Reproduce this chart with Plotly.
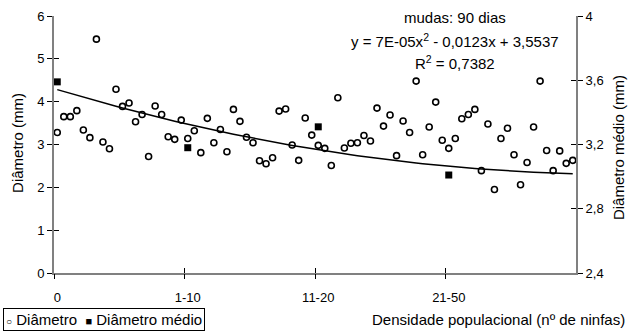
import plotly.graph_objects as go

# Diâmetro (mm) – 80 plants, primary axis
diametro = [3.28, 3.65, 3.65, 3.79, 3.34, 3.16, 5.46, 3.06, 2.90, 4.29,
            3.89, 3.97, 3.53, 3.70, 2.72, 3.90, 3.70, 3.18, 3.12, 3.57,
            3.14, 3.32, 2.81, 3.61, 3.04, 3.35, 2.83, 3.82, 3.54, 3.17,
            3.04, 2.62, 2.55, 2.69, 3.78, 3.83, 2.99, 2.63, 3.62, 3.22,
            2.98, 2.91, 2.51, 4.09, 2.92, 3.03, 3.04, 3.21, 3.08, 3.85,
            3.43, 3.69, 2.74, 3.55, 3.28, 4.48, 2.76, 3.41, 3.99, 3.10,
            2.91, 3.14, 3.60, 3.70, 3.82, 2.39, 3.48, 1.95, 3.14, 3.38,
            2.76, 2.06, 2.58, 3.41, 4.48, 2.86, 2.39, 2.85, 2.56, 2.63]
plant_index = list(range(1, len(diametro) + 1))

# Diâmetro médio (mm) – secondary axis, one per density class
medio_index = [1, 21, 41, 61]
diametro_medio = [3.59, 3.18, 3.31, 3.01]

# Polynomial trendline coefficients (a, b, c): y = a x^2 + b x + c
trend_coef = [7e-05, -0.0123, 3.5537]
trend_y = [trend_coef[0] * x * x + trend_coef[1] * x + trend_coef[2] for x in plant_index]

x_labelvals = [1, 21, 41, 61]
x_ticktext = ["0", "1-10", "11-20", "21-50"]
x_tickmarks = [0.5, 20.5, 40.5, 60.5]
y1_ticks = [0, 1, 2, 3, 4, 5, 6]
y2_ticks = [2.4, 2.8, 3.2, 3.6, 4.0]
y2_ticktext = ["2,4", "2,8", "3,2", "3,6", "4"]

FONT = "Liberation Sans, Arial, sans-serif"

fig = go.Figure()
fig.add_trace(go.Scatter(
    x=plant_index, y=diametro, mode="markers", name="Diâmetro",
    marker=dict(symbol="circle-open", size=6, color="black", line=dict(width=1.6)),
))
fig.add_trace(go.Scatter(
    x=medio_index, y=diametro_medio, mode="markers", name="Diâmetro médio",
    yaxis="y2", marker=dict(symbol="square", size=7, color="black"),
))
fig.add_trace(go.Scatter(
    x=plant_index, y=trend_y, mode="lines", showlegend=False, yaxis="y2",
    line=dict(color="black", width=1.5),
))
# empty traces to materialise the overlay axes used for crossing ticks
fig.add_trace(go.Scatter(x=[None], y=[None], xaxis="x2", yaxis="y3", showlegend=False))
fig.add_trace(go.Scatter(x=[None], y=[None], xaxis="x2", yaxis="y4", showlegend=False))
fig.add_trace(go.Scatter(x=[None], y=[None], xaxis="x3", yaxis="y3", showlegend=False))

axis_common = dict(showgrid=False, zeroline=False, linecolor="#808080", linewidth=2,
                   ticks="outside", ticklen=5, tickcolor="black", tickwidth=1,
                   tickfont=dict(size=13, color="black", family=FONT))
inner = dict(showticklabels=False, showgrid=False, zeroline=False, showline=False,
             ticks="inside", ticklen=5, tickcolor="black", tickwidth=1, tickmode="array")
outer = dict(inner, ticks="outside")

x_main = dict(axis_common, ticks="")
fig.update_layout(
    width=630, height=333,
    margin=dict(l=54, r=54, t=16, b=60, autoexpand=False),
    paper_bgcolor="white", plot_bgcolor="white",
    separators=",.",
    showlegend=False,
    font=dict(family=FONT, color="black", size=13),
    xaxis=dict(range=[0.5, 80.5], tickmode="array", tickvals=x_labelvals,
               ticktext=x_ticktext, showline=True, ticklabelstandoff=11, **x_main),
    yaxis=dict(range=[0, 6], tickmode="array", tickvals=y1_ticks, showline=True,
               **axis_common),
    yaxis2=dict(range=[2.4, 4.0], tickmode="array", tickvals=y2_ticks,
                ticktext=y2_ticktext, overlaying="y", side="right", showline=True,
                **axis_common),
    xaxis2=dict(range=[0.5, 80.5], overlaying="x", tickvals=x_tickmarks, anchor="y3", **inner),
    xaxis3=dict(range=[0.5, 80.5], overlaying="x", tickvals=x_tickmarks, anchor="y3", **outer),
    yaxis3=dict(range=[0, 6], overlaying="y", tickvals=y1_ticks, anchor="x2", **inner),
    yaxis4=dict(range=[2.4, 4.0], overlaying="y", side="right", tickvals=y2_ticks,
                anchor="x2", **inner),
)

ann_font = dict(size=15, family=FONT, color="black")
title_font = dict(size=15, family=FONT, color="black")
fig.add_annotation(text="mudas: 90 dias", x=0.768, y=0.996, xref="paper", yref="paper",
                   showarrow=False, font=ann_font, xanchor="center", yanchor="middle")
fig.add_annotation(text="y = 7E-05x<sup>2</sup> - 0,0123x + 3,5537", x=0.768, y=0.903,
                   xref="paper", yref="paper", showarrow=False, font=ann_font,
                   xanchor="center", yanchor="middle")
fig.add_annotation(text="R<sup>2</sup> = 0,7382", x=0.768, y=0.821, xref="paper",
                   yref="paper", showarrow=False, font=ann_font, xanchor="center",
                   yanchor="middle")
fig.add_annotation(text="Densidade populacional (nº de ninfas)", x=1.0977, y=-0.179,
                   xref="paper", yref="paper", showarrow=False, font=title_font,
                   xanchor="right", yanchor="middle")
fig.add_annotation(text="Diâmetro (mm)", x=-0.069, y=0.506, xref="paper", yref="paper",
                   showarrow=False, textangle=-90, font=title_font,
                   xanchor="center", yanchor="middle")
fig.add_annotation(text="Diâmetro médio (mm)", x=1.0805, y=0.486, xref="paper",
                   yref="paper", showarrow=False, textangle=-90, font=title_font,
                   xanchor="center", yanchor="middle")
# legend box
fig.add_annotation(
    text='<span style="font-size:10px">○</span> Diâmetro  '
         '<span style="font-size:11px">■</span> Diâmetro médio',
    x=-0.0977, y=-0.179, xref="paper", yref="paper", showarrow=False,
    font=dict(size=15, family=FONT, color="black"),
    xanchor="left", yanchor="middle", bordercolor="black",
    borderwidth=1, borderpad=2, bgcolor="white")

fig.write_html("out.html", config={"displayModeBar": False},
               post_script="document.body.style.margin='0px';")
